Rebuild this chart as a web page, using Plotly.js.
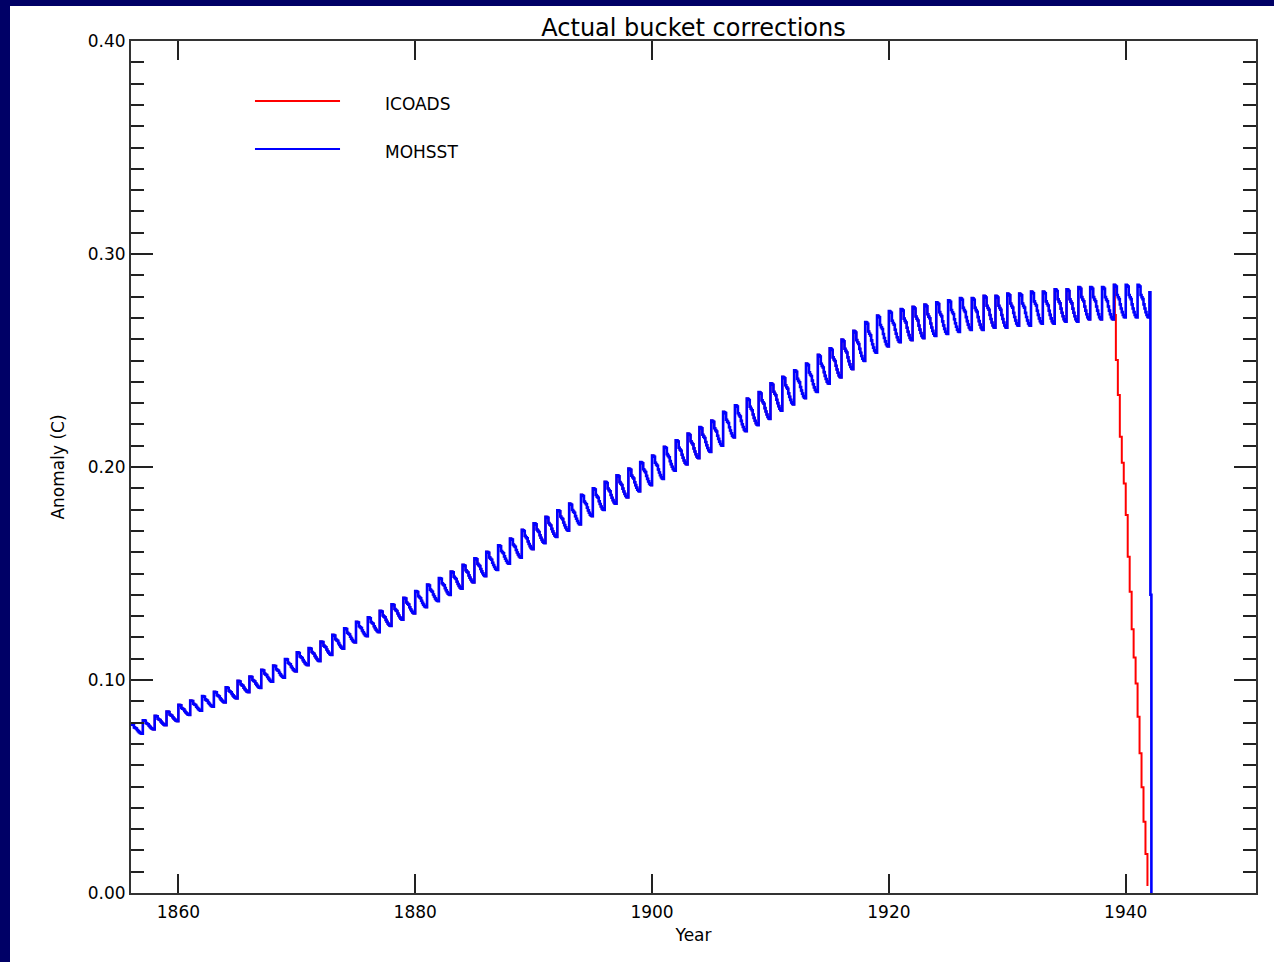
<!DOCTYPE html>
<html><head><meta charset="utf-8">
<script src="https://cdn.plot.ly/plotly-3.0.1.min.js"></script>
<style>
html,body{margin:0;padding:0;background:#000066;width:1274px;height:962px;overflow:hidden}
#chart{position:absolute;left:10px;top:6px;width:1264px;height:956px;background:#fff}
</style></head><body><div id="chart"></div>
<script>
// Years of the monthly record (each year holds 12 monthly values)
const years = [1856,1857,1858,1859,1860,1861,1862,1863,1864,1865,1866,1867,1868,1869,1870,
  1871,1872,1873,1874,1875,1876,1877,1878,1879,1880,1881,1882,1883,1884,1885,1886,1887,1888,
  1889,1890,1891,1892,1893,1894,1895,1896,1897,1898,1899,1900,1901,1902,1903,1904,1905,1906,
  1907,1908,1909,1910,1911,1912,1913,1914,1915,1916,1917,1918,1919,1920,1921,1922,1923,1924,
  1925,1926,1927,1928,1929,1930,1931,1932,1933,1934,1935,1936,1937,1938,1939,1940,1941];
// Annual mean bucket correction (C)
const annualMean = [0.077,0.079,0.081,0.083,0.086,0.088,0.090,0.092,0.094,0.097,0.099,0.102,0.104,0.107,0.110,
  0.112,0.115,0.118,0.121,0.124,0.126,0.129,0.132,0.135,0.138,0.141,0.144,0.147,0.150,0.153,0.156,0.159,0.162,
  0.166,0.169,0.172,0.175,0.178,0.182,0.185,0.188,0.191,0.194,0.197,0.200,0.204,0.207,0.210,0.213,0.216,0.220,
  0.223,0.226,0.229,0.233,0.236,0.239,0.242,0.246,0.249,0.253,0.257,0.261,0.264,0.266,0.267,0.268,0.269,0.270,
  0.271,0.272,0.272,0.273,0.273,0.274,0.274,0.275,0.275,0.276,0.276,0.277,0.277,0.277,0.278,0.278,0.278];
// Seasonal (Jan..Dec) relative departure from the annual mean
const monthFactor = [0.027,0.026,0.024,0.010,0.006,0.003,-0.006,-0.013,-0.019,-0.024,-0.027,-0.028];
// MOHSST values for Jan..Mar 1942 (end of record)
const mohsstTail = [0.282,0.140,0.000];
// ICOADS values from Feb 1939 to Dec 1941 (tapering of the correction)
const icoadsTail = [0.2714,0.2502,0.2502,0.2338,0.2338,0.2142,0.2142,0.2020,0.2020,0.1923,0.1923,
  0.1775,0.1775,0.1579,0.1579,0.1414,0.1414,0.1238,0.1238,0.1106,0.1106,0.0984,0.0984,
  0.0828,0.0828,0.0656,0.0656,0.0496,0.0496,0.0335,0.0335,0.0183,0.0183,0.0038,0.0038];
const icoadsTailStartYear = 1939, icoadsTailStartMonth = 1; // Feb 1939
const seriesNames = ['ICOADS','MOHSST'];
const xTickVals = [1860,1880,1900,1920,1940];
const yTickVals = [0.0,0.1,0.2,0.3,0.4];

// Build monthly series
const mx = [], my = [];
years.forEach((yr,i)=>{ for(let m=0;m<12;m++){ mx.push(yr+m/12); my.push(annualMean[i]*(1+monthFactor[m])); } });
const lastYear = years[years.length-1]+1;
mohsstTail.forEach((v,k)=>{ mx.push(lastYear+k/12); my.push(v); });

const cut = icoadsTailStartYear + icoadsTailStartMonth/12 - 1e-6;
const ix = [], iy = [];
for(let k=0;k<mx.length;k++){ if(mx[k] < cut){ ix.push(mx[k]); iy.push(my[k]); } }
icoadsTail.forEach((v,k)=>{ ix.push(icoadsTailStartYear + (icoadsTailStartMonth+k)/12); iy.push(v); });

const F = 'DejaVu Sans, sans-serif';
const traces = [
  {x: ix, y: iy, name: seriesNames[0], type:'scatter', mode:'lines', line:{color:'#ff0000', width:2, shape:'hv'}, showlegend:false},
  {x: mx, y: my, name: seriesNames[1], type:'scatter', mode:'lines', line:{color:'#0000ff', width:2.6, shape:'hv'}, showlegend:false}
];
const axCommon = {showgrid:false, zeroline:false, showline:true, linecolor:'#333', linewidth:2,
  ticks:'inside', mirror:'ticks', tickcolor:'#222', tickwidth:2, tickfont:{family:F, size:17, color:'#000'}};
const layout = {
  width:1264, height:956,
  margin:{l:121, r:18, t:35, b:69},
  paper_bgcolor:'#ffffff', plot_bgcolor:'#ffffff',
  title:{text:'Actual bucket corrections', font:{family:F, size:24, color:'#000'}, x:0.5, xanchor:'center', xref:'paper', y:0.977, yref:'container', yanchor:'middle'},
  xaxis: Object.assign({}, axCommon, {range:[1856,1951], tickvals:xTickVals, ticktext:xTickVals.map(String), ticklen:19, ticklabelstandoff:3,
    title:{text:'Year', font:{family:F, size:17, color:'#000'}, standoff:8}}),
  yaxis: Object.assign({}, axCommon, {range:[0,0.40], tickvals:yTickVals, ticktext:yTickVals.map(v=>v.toFixed(2)), ticklen:22,
    minor:{dtick:0.01, tick0:0, ticks:'inside', ticklen:13, tickwidth:2, tickcolor:'#222'},
    title:{text:'Anomaly (C)', font:{family:F, size:17, color:'#000'}, standoff:19}}),
  shapes:[
    {type:'line', xref:'paper', yref:'paper', x0:0.1102, x1:0.1858, y0:0.9296, y1:0.9296, line:{color:'#ff0000', width:2}},
    {type:'line', xref:'paper', yref:'paper', x0:0.1102, x1:0.1858, y0:0.8732, y1:0.8732, line:{color:'#0000ff', width:2}}
  ],
  annotations:[
    {text:seriesNames[0], xref:'paper', yref:'paper', x:0.224, y:0.926, xanchor:'left', yanchor:'middle', showarrow:false, font:{family:F, size:17, color:'#000'}},
    {text:seriesNames[1], xref:'paper', yref:'paper', x:0.224, y:0.8697, xanchor:'left', yanchor:'middle', showarrow:false, font:{family:F, size:17, color:'#000'}}
  ]
};
Plotly.newPlot('chart', traces, layout, {displayModeBar:false, staticPlot:true});
</script></body></html>
